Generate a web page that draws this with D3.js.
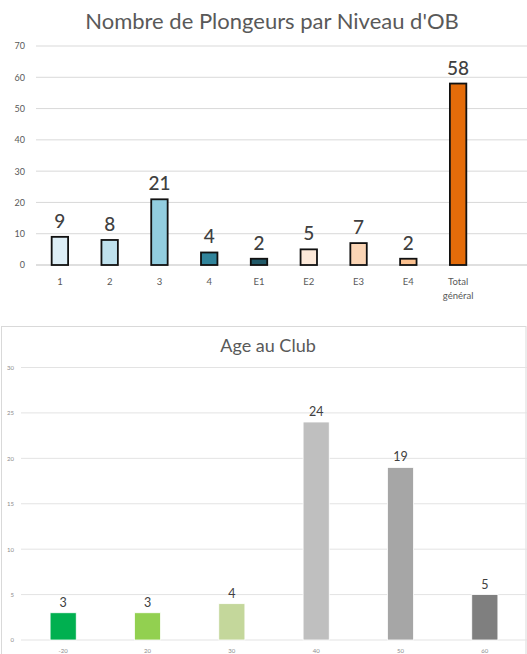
<!DOCTYPE html>
<html><head><meta charset="utf-8">
<script src="https://cdn.jsdelivr.net/npm/d3@7"></script>
<style>body{margin:0;background:#fff}svg{display:block}</style>
</head><body>
<svg id="c" width="527" height="654"></svg>
<script>
// Chart 1
const levels = ["1","2","3","4","E1","E2","E3","E4","Total général"];
const divers = [9,8,21,4,2,5,7,2,58];
const levelColors = ["#ddeef6","#bfe1ed","#92cddf","#31849b","#215968","#fde9d9","#fbd5b5","#fac08f","#e46c0a"];
const ticks1 = [0,10,20,30,40,50,60,70];
// Chart 2
const ages = ["-20","20","30","40","50","60"];
const ageCounts = [3,3,4,24,19,5];
const ageColors = ["#00b050","#92d050","#c4d79b","#bfbfbf","#a6a6a6","#7f7f7f"];
const ticks2 = [0,5,10,15,20,25,30];

const svg = d3.select("#c");
const font = "Lato, 'Open Sans', sans-serif";

// ---------- chart 1 ----------
const g1 = svg.append("g");
const x1 = d3.scaleBand().domain(levels).range([35, 483]).paddingInner(0.67).paddingOuter(0.335);
const y1 = d3.scaleLinear().domain([0,70]).range([265, 46]);

g1.append("text").attr("x", 272).attr("y", 29).attr("text-anchor","middle")
  .attr("font-family", font).attr("font-size", 22).attr("fill","#595959")
  .text("Nombre de Plongeurs par Niveau d'OB");

g1.selectAll("line.grid").data(ticks1).join("line")
  .attr("x1", 36).attr("x2", 527).attr("y1", d=>y1(d)).attr("y2", d=>y1(d))
  .attr("stroke", d=> d===0 ? "#bfbfbf" : "#d9d9d9").attr("stroke-width", 1);

const ax1 = d3.axisLeft(y1).tickValues(ticks1).tickSize(0).tickPadding(0);
g1.append("g").attr("transform","translate(25,0)").call(ax1)
  .call(g=>g.select(".domain").remove())
  .selectAll("text").attr("font-family", font).attr("font-size", 9).attr("fill","#595959");

g1.selectAll("rect.bar").data(levels).join("rect")
  .attr("x", d=>x1(d)).attr("width", x1.bandwidth())
  .attr("y", (d,i)=>y1(divers[i])).attr("height", (d,i)=>y1(0)-y1(divers[i]))
  .attr("fill", (d,i)=>levelColors[i]).attr("stroke","#111").attr("stroke-width",1.8);

g1.selectAll("text.lbl").data(levels).join("text")
  .attr("x", d=>x1(d)+x1.bandwidth()/2).attr("y", (d,i)=>y1(divers[i])-9)
  .attr("text-anchor","middle").attr("font-family", font).attr("font-size", 19)
  .attr("font-weight", 500).attr("fill","#404040").text((d,i)=>divers[i]);

const xa1 = g1.selectAll("text.xl").data(levels).join("text")
  .attr("x", d=>x1(d)+x1.bandwidth()/2).attr("y", 285)
  .attr("text-anchor","middle").attr("font-family", font).attr("font-size", 9.5).attr("fill","#595959");
xa1.each(function(d){
  const parts = d.split(" ");
  const t = d3.select(this);
  parts.forEach((p,k)=>t.append("tspan").attr("x", x1(d)+x1.bandwidth()/2).attr("dy", k===0?0:13.5).text(p));
});

// ---------- chart 2 ----------
const g2 = svg.append("g");
g2.append("rect").attr("x",1.5).attr("y",326.5).attr("width",524.5).attr("height",340)
  .attr("fill","none").attr("stroke","#d9d9d9").attr("stroke-width",1);

const x2 = d3.scaleBand().domain(ages).range([21, 527]).paddingInner(0.69).paddingOuter(0.345);
const y2 = d3.scaleLinear().domain([0,30]).range([640, 367.5]);

g2.append("text").attr("x", 268).attr("y", 352).attr("text-anchor","middle")
  .attr("font-family", font).attr("font-size", 18).attr("fill","#595959").text("Age au Club");

g2.selectAll("line.grid").data(ticks2).join("line")
  .attr("x1", 21).attr("x2", 527).attr("y1", d=>y2(d)).attr("y2", d=>y2(d))
  .attr("stroke", "#e3e3e3").attr("stroke-width", 1);

const ax2 = d3.axisLeft(y2).tickValues(ticks2).tickSize(0).tickPadding(0);
g2.append("g").attr("transform","translate(14,0)").call(ax2)
  .call(g=>g.select(".domain").remove())
  .selectAll("text").attr("font-family", font).attr("font-size", 6).attr("fill","#8c8c8c");

g2.selectAll("rect.bar").data(ages).join("rect")
  .attr("x", d=>x2(d)).attr("width", x2.bandwidth())
  .attr("y", (d,i)=>y2(ageCounts[i])).attr("height", (d,i)=>y2(0)-y2(ageCounts[i]))
  .attr("fill", (d,i)=>ageColors[i]).attr("stroke","#ffffff").attr("stroke-width",0.8);

g2.selectAll("text.lbl").data(ages).join("text")
  .attr("x", d=>x2(d)+x2.bandwidth()/2).attr("y", (d,i)=>y2(ageCounts[i])-6)
  .attr("text-anchor","middle").attr("font-family", font).attr("font-size", 12.5)
  .attr("fill","#404040").text((d,i)=>ageCounts[i]);

g2.selectAll("text.xl").data(ages).join("text")
  .attr("x", d=>x2(d)+x2.bandwidth()/2).attr("y", 653)
  .attr("text-anchor","middle").attr("font-family", font).attr("font-size", 6).attr("fill","#8c8c8c")
  .text(d=>d);
</script>
</body></html>
